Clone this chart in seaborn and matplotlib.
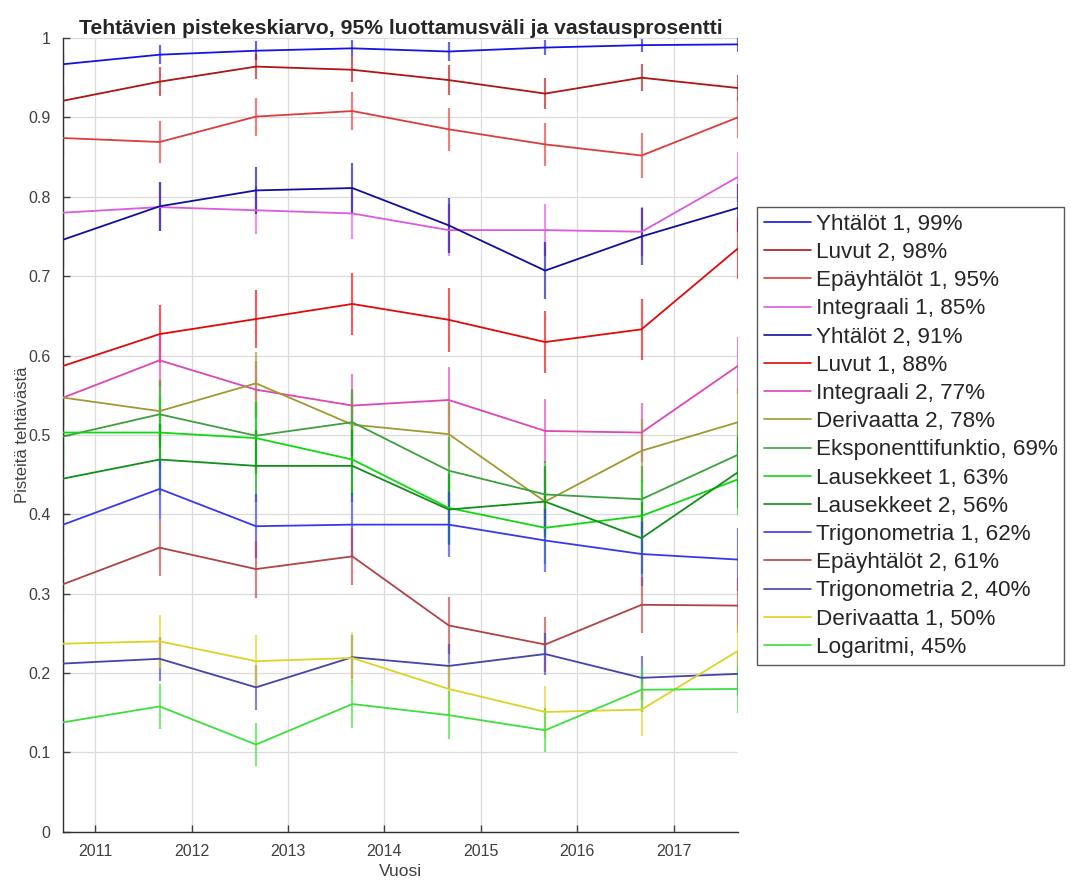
import numpy as np
import pandas as pd
import matplotlib
matplotlib.use("Agg")
import matplotlib.pyplot as plt
import seaborn as sns

years = [2010.667 + i for i in range(8)]

labels = ["Yhtälöt 1, 99%", "Luvut 2, 98%", "Epäyhtälöt 1, 95%", "Integraali 1, 85%",
          "Yhtälöt 2, 91%", "Luvut 1, 88%", "Integraali 2, 77%", "Derivaatta 2, 78%",
          "Eksponenttifunktio, 69%", "Lausekkeet 1, 63%", "Lausekkeet 2, 56%",
          "Trigonometria 1, 62%", "Epäyhtälöt 2, 61%", "Trigonometria 2, 40%",
          "Derivaatta 1, 50%", "Logaritmi, 45%"]

colors = ["#1414e6", "#b01414", "#de3c3c", "#dc5ade", "#1010a0", "#e00a0a", "#de46b4",
          "#a09a32", "#3ea03e", "#10d810", "#10901a", "#3838ee", "#b04444", "#4444b0",
          "#e0d224", "#3ede3e"]

yhtalot1 = [0.967, 0.979, 0.984, 0.987, 0.983, 0.988, 0.991, 0.992]
luvut2 = [0.921, 0.945, 0.964, 0.960, 0.947, 0.930, 0.950, 0.937]
epayhtalot1 = [0.874, 0.869, 0.901, 0.908, 0.885, 0.866, 0.852, 0.900]
integraali1 = [0.780, 0.787, 0.783, 0.779, 0.758, 0.758, 0.756, 0.825]
yhtalot2 = [0.746, 0.788, 0.808, 0.811, 0.764, 0.707, 0.750, 0.786]
luvut1 = [0.587, 0.627, 0.646, 0.665, 0.645, 0.617, 0.633, 0.735]
integraali2 = [0.547, 0.594, 0.557, 0.537, 0.544, 0.505, 0.503, 0.587]
derivaatta2 = [0.547, 0.530, 0.565, 0.513, 0.501, 0.416, 0.480, 0.516]
eksponentti = [0.498, 0.526, 0.499, 0.516, 0.455, 0.425, 0.419, 0.475]
lausekkeet1 = [0.503, 0.503, 0.496, 0.469, 0.408, 0.383, 0.398, 0.444]
lausekkeet2 = [0.445, 0.469, 0.461, 0.461, 0.406, 0.416, 0.370, 0.453]
trigonometria1 = [0.387, 0.432, 0.385, 0.387, 0.387, 0.367, 0.350, 0.343]
epayhtalot2 = [0.312, 0.358, 0.331, 0.347, 0.260, 0.236, 0.286, 0.285]
trigonometria2 = [0.212, 0.218, 0.182, 0.220, 0.209, 0.224, 0.194, 0.199]
derivaatta1 = [0.237, 0.240, 0.215, 0.219, 0.180, 0.151, 0.154, 0.228]
logaritmi = [0.138, 0.158, 0.110, 0.161, 0.147, 0.128, 0.179, 0.180]

err_yhtalot1 = [0.013, 0.012, 0.012, 0.011, 0.012, 0.010, 0.008, 0.009]
err_luvut2 = [0.018, 0.018, 0.016, 0.016, 0.019, 0.020, 0.017, 0.016]
err_epayhtalot1 = [0.023, 0.026, 0.024, 0.024, 0.027, 0.027, 0.028, 0.026]
err_integraali1 = [0.027, 0.030, 0.030, 0.032, 0.033, 0.033, 0.031, 0.032]
err_yhtalot2 = [0.034, 0.031, 0.030, 0.032, 0.035, 0.036, 0.036, 0.030]
err_luvut1 = [0.035, 0.037, 0.037, 0.039, 0.040, 0.039, 0.038, 0.038]
err_integraali2 = [0.036, 0.032, 0.036, 0.040, 0.041, 0.040, 0.037, 0.036]
err_derivaatta2 = [0.037, 0.040, 0.040, 0.040, 0.040, 0.040, 0.040, 0.043]
err_eksponentti = [0.042, 0.042, 0.042, 0.042, 0.042, 0.042, 0.042, 0.042]
err_lausekkeet1 = [0.045, 0.045, 0.045, 0.045, 0.045, 0.045, 0.045, 0.045]
err_lausekkeet2 = [0.045, 0.045, 0.045, 0.045, 0.045, 0.045, 0.045, 0.045]
err_trigonometria1 = [0.035, 0.038, 0.040, 0.040, 0.041, 0.040, 0.040, 0.040]
err_epayhtalot2 = [0.036, 0.036, 0.036, 0.036, 0.036, 0.035, 0.035, 0.035]
err_trigonometria2 = [0.028, 0.028, 0.028, 0.028, 0.028, 0.027, 0.028, 0.028]
err_derivaatta1 = [0.033, 0.033, 0.033, 0.033, 0.033, 0.033, 0.033, 0.033]
err_logaritmi = [0.028, 0.028, 0.027, 0.030, 0.030, 0.028, 0.028, 0.030]

means = [yhtalot1, luvut2, epayhtalot1, integraali1, yhtalot2, luvut1, integraali2,
         derivaatta2, eksponentti, lausekkeet1, lausekkeet2, trigonometria1,
         epayhtalot2, trigonometria2, derivaatta1, logaritmi]
errs = [err_yhtalot1, err_luvut2, err_epayhtalot1, err_integraali1, err_yhtalot2,
        err_luvut1, err_integraali2, err_derivaatta2, err_eksponentti, err_lausekkeet1,
        err_lausekkeet2, err_trigonometria1, err_epayhtalot2, err_trigonometria2,
        err_derivaatta1, err_logaritmi]

rows = []
for lab, m, e in zip(labels, means, errs):
    for x, v, ee in zip(years, m, e):
        rows.append({"Vuosi": x, "mean": v, "err": ee, "label": lab})
df = pd.DataFrame(rows)

sns.set_theme(style="whitegrid")
plt.rcParams["font.family"] = ["Liberation Sans", "DejaVu Sans"]

fig = plt.figure(figsize=(10.71, 8.84), dpi=100)
ax = fig.add_axes([0.059, 0.059, 0.630, 0.898])

palette = dict(zip(labels, colors))
for lab in labels:
    sub = df[df["label"] == lab]
    ax.errorbar(sub["Vuosi"], sub["mean"], yerr=sub["err"], fmt="none",
                ecolor=palette[lab], elinewidth=1.6, capsize=0, alpha=0.65, zorder=2)

sns.lineplot(data=df, x="Vuosi", y="mean", hue="label", hue_order=labels,
             palette=palette, estimator=None, sort=False, linewidth=1.3, ax=ax,
             zorder=3)

ax.set_xlim(years[0], years[-1])
ax.set_ylim(0, 1)
ax.set_xticks([2011, 2012, 2013, 2014, 2015, 2016, 2017])
ax.set_yticks(np.arange(0, 1.01, 0.1))
ax.set_yticklabels(["0", "0.1", "0.2", "0.3", "0.4", "0.5", "0.6", "0.7", "0.8", "0.9", "1"])
ax.tick_params(axis="both", direction="in", length=5, width=1, colors="#404040",
               labelsize=11.5, left=True, bottom=True, labelcolor="#404040", pad=9)
ax.grid(True, color="#dcdcdc", linewidth=0.9)
ax.set_facecolor("white")
for s in ["top", "right"]:
    ax.spines[s].set_visible(False)
for s in ["left", "bottom"]:
    ax.spines[s].set_visible(True)
    ax.spines[s].set_color("#303030")
    ax.spines[s].set_linewidth(1.0)

ax.set_xlabel("Vuosi", fontsize=12.5, color="#404040", labelpad=3)
ax.set_ylabel("Pisteitä tehtävästä", fontsize=12, color="#404040", labelpad=-1)
ax.set_title("Tehtävien pistekeskiarvo, 95% luottamusväli ja vastausprosentti",
             fontsize=15.2, fontweight="bold", pad=3)

handles, labs = ax.get_legend_handles_labels()
leg = ax.legend(handles, labs, loc="upper left", bbox_to_anchor=(1.028, 0.787),
                frameon=True, fancybox=False, edgecolor="#303030", fontsize=16.2,
                handlelength=2.1, handletextpad=0.22, labelspacing=0.32,
                borderpad=0.3, borderaxespad=0)
leg.get_frame().set_linewidth(1.0)
for h in leg.get_lines():
    h.set_linewidth(1.2)

fig.savefig("out.png", dpi=100, facecolor="white")
